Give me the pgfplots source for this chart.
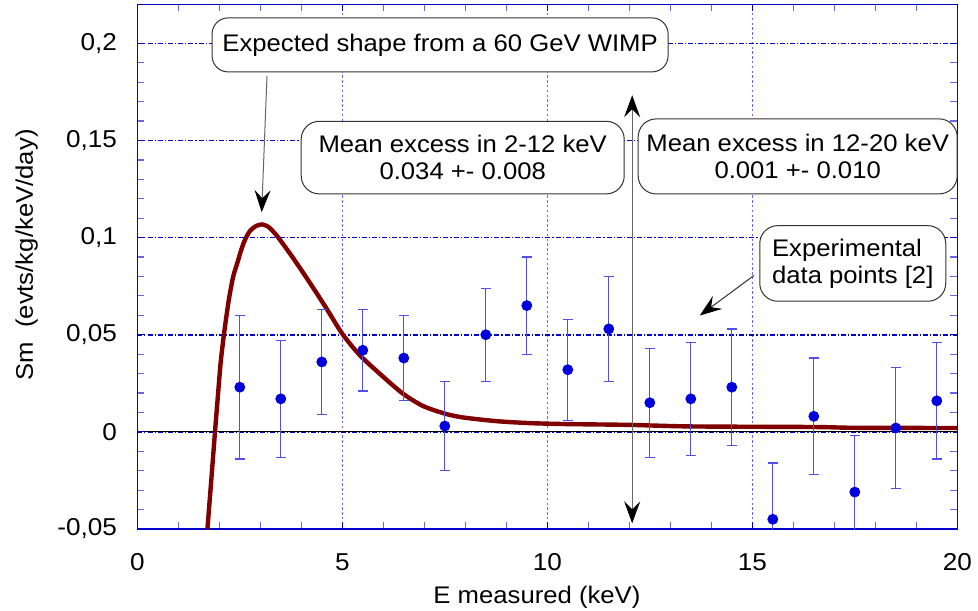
\documentclass[border=0pt]{standalone}
\usepackage{fontspec}
\setmainfont{Liberation Sans}[FakeStretch=1.07]
\usepackage{pgfplots}
\usepackage{pgfplotstable}
\pgfplotsset{compat=1.18}
\usetikzlibrary{arrows.meta}
\definecolor{curvered}{RGB}{128,0,0}
\definecolor{ptblue}{RGB}{0,0,220}
\definecolor{gridblue}{RGB}{0,0,200}
\definecolor{errblue}{RGB}{80,80,232}

\pgfplotstableread{
x y e
2.5 0.023 0.037
3.5 0.017 0.030
4.5 0.036 0.027
5.5 0.042 0.021
6.5 0.038 0.022
7.5 0.003 0.023
8.5 0.050 0.024
9.5 0.065 0.025
10.5 0.032 0.026
11.5 0.053 0.027
12.5 0.015 0.028
13.5 0.017 0.029
14.5 0.023 0.030
15.5 -0.045 0.029
16.5 0.008 0.030
17.5 -0.031 0.029
18.5 0.002 0.031
19.5 0.016 0.030
}\datatable

\begin{document}
\begin{tikzpicture}[font=\fontsize{12}{13.4}\selectfont]
\begin{axis}[
 scale only axis, width=410pt, height=262.25pt,
 xmin=0, xmax=20, ymin=-0.05, ymax=0.22,
 xtick={0,5,10,15,20}, minor x tick num=4,
 ytick={-0.05,0,0.05,0.1,0.15,0.2},
 yticklabels={{-0,05},{0},{0,05},{0,1},{0,15},{0,2}},
 minor y tick num=4,
 tick align=inside,
 major tick length=3.5pt, minor tick length=3.5pt,
 major tick style={gridblue, line width=0.6pt},
 minor tick style={gridblue!60, line width=0.6pt},
 axis line style={gridblue, line width=0.6pt},
 xmajorgrids, ymajorgrids,
 x grid style={blue!60, line width=0.4pt, dash pattern=on 1.2pt off 1.2pt},
 y grid style={gridblue, line width=0.8pt, dash pattern=on 2.5pt off 1pt on 0.6pt off 1pt},
 xticklabel style={inner sep=0pt, anchor=north, yshift=-12pt, font=\fontsize{12.2}{14}\selectfont},
 yticklabel style={inner sep=0pt, anchor=east, xshift=-10pt, font=\fontsize{12.2}{14}\selectfont},
 /pgf/number format/assume math mode=true,
 clip mode=individual,
]
\addplot[black, line width=0.6pt, no marks] coordinates {(0.2,0) (20,0)};
\addplot[curvered, line width=2.2pt, no marks, line join=round, smooth, tension=0.45] coordinates {
(1.71,-0.05) (1.80,-0.026) (1.895,0) (1.96,0.017) (2.03,0.035) (2.10,0.048)
(2.17,0.059) (2.24,0.069) (2.34,0.080) (2.44,0.087) (2.54,0.094) (2.63,0.099)
(2.75,0.1035) (2.9,0.106) (3.05,0.1068) (3.2,0.1055) (3.32,0.103) (3.44,0.1)
(3.8,0.0895) (4.2,0.077) (4.6,0.064) (5.0,0.0505) (5.43,0.0394) (6.0,0.0283)
(6.49,0.0195) (6.97,0.0133) (7.5,0.0094) (7.95,0.0074) (8.77,0.0055) (9.58,0.0045)
(10.5,0.0040) (12,0.0036) (13.5,0.0028) (16.5,0.0025) (17.5,0.0021) (20,0.002)};
\addplot[only marks, mark=*, mark size=2.5pt, color=ptblue,
 error bars/.cd, y dir=both, y explicit,
 error bar style={errblue, line width=0.6pt},
 error mark options={rotate=90, mark size=2.5pt, errblue, line width=0.6pt}]
 table[x=x, y=y, y error=e] {\datatable};

\draw[black!60, line width=0.5pt, -{Stealth[length=11pt,width=8pt,inset=4pt,black]}]
 (axis cs:3.163,0.1833) -- (axis cs:3.034,0.1131);
\draw[black!60, line width=0.5pt, {Stealth[length=11pt,width=8pt,inset=4pt,black]}-{Stealth[length=11pt,width=8pt,inset=4pt,black]}]
 (axis cs:12.07,-0.0471) -- (axis cs:12.07,0.1733);
\draw[black!80, line width=0.5pt, -{Stealth[length=11pt,width=8pt,inset=4pt,black]}]
 (axis cs:15.04,0.0805) -- (axis cs:13.72,0.0599);

\node[draw=black!80, line width=0.5pt, fill=white, rounded corners=8pt, minimum width=228pt, minimum height=27pt, inner sep=0pt]
 at (axis cs:7.385,0.1992) {Expected shape from a 60 GeV WIMP};
\node[draw=black!80, line width=0.5pt, fill=white, rounded corners=9pt, minimum width=161.5pt, minimum height=36.3pt, inner sep=0pt, align=center]
 at (axis cs:7.937,0.1412) {Mean excess in 2-12 keV\\0.034 +- 0.008};
\node[draw=black!80, line width=0.5pt, fill=white, rounded corners=9pt, minimum width=159.5pt, minimum height=37.5pt, inner sep=0pt, align=center]
 at (axis cs:16.107,0.1418) {Mean excess in 12-20 keV\\0.001 +- 0.010};
\node[draw=black!80, line width=0.5pt, fill=white, rounded corners=9pt, minimum width=93pt, minimum height=37.8pt, inner sep=0pt, align=left]
 at (axis cs:17.45,0.0867) {Experimental\\data points [2]};

\node[rotate=90, anchor=base] at (rel axis cs:-0.1272,0.5224) {Sm~~(evts/kg/keV/day)};
\node[anchor=base] at (rel axis cs:0.4874,-0.1411) {E measured (keV)};
\end{axis}
\pgfresetboundingbox
\useasboundingbox ([xshift=-68.65pt,yshift=-40.5pt]current axis.south west) rectangle ([xshift=10.35pt,yshift=2.25pt]current axis.north east);
\end{tikzpicture}
\end{document}
